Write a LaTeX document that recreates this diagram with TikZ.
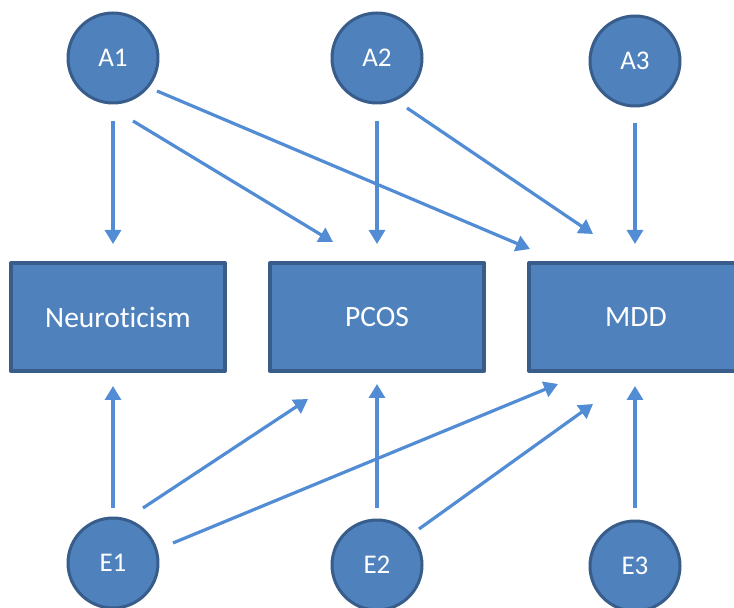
\documentclass[tikz,border=0pt]{standalone}
\usepackage{fontspec}
\setmainfont[Ligatures=NoCommon]{Carlito}
\usetikzlibrary{calc,arrows.meta}

\definecolor{nodeblue}{RGB}{79,129,189}
\definecolor{edgeblue}{RGB}{56,93,138}
\definecolor{arrowblue}{RGB}{82,140,212}

\begin{document}
\begin{tikzpicture}[x=1pt,y=1pt,line join=round,
    latent/.style={circle,fill=nodeblue,draw=edgeblue,line width=3pt,
        minimum size=90pt,inner sep=0pt,text=white,
        font=\fontsize{27}{31}\selectfont},
    trait/.style={rectangle,fill=nodeblue,draw=edgeblue,line width=4pt,
        minimum width=214pt,minimum height=108pt,inner sep=0pt,text=white,
        font=\fontsize{29.5}{33}\selectfont},
    link/.style={draw=arrowblue,line width=3.2pt,
        -{Triangle[length=14pt,width=16pt]}}]
        \useasboundingbox (0,0) rectangle (734,608);

        % Genetische Faktoren oben
        \node[latent] (a1) at (113,550) {A1};
        \node[latent] (a2) at (377,550) {A2};
        \node[latent] (a3) at (635,547) {A3};

        % Merkmale in der Mitte
        \node[trait] (neuro) at (118,291) {Neuroticism};
        \node[trait] (pcos) at (377,291) {PCOS};
        \node[trait] (mdd) at (636,291) {MDD};

        % Umweltfaktoren unten
        \node[latent] (e1) at (113,45) {E1};
        \node[latent] (e2) at (377,43) {E2};
        \node[latent] (e3) at (635,42) {E3};

        % Pfade von A
        \draw[link] ($(a1)+(0,-63)$) -- ($(neuro.north)+(-5,17)$);
        \draw[link] ($(a1)+(20,-63)$) -- ($(pcos.north)+(-44,19)$);
        \draw[link] ($(a1)+(44,-33)$) -- ($(mdd.north west)+(3,12)$);
        \draw[link] ($(a2)+(0,-63)$) -- ($(pcos.north)+(0,17)$);
        \draw[link] ($(a2)+(30,-50)$) -- ($(mdd.north)+(-43,27)$);
        \draw[link] ($(a3)+(0,-62)$) -- ($(mdd.north)+(-1,17)$);

        % Pfade von E
        \draw[link] ($(e1)+(0,55)$) -- ($(neuro.south)+(-5,-13)$);
        \draw[link] ($(e1)+(30,55)$) -- ($(pcos.south)+(-69,-26)$);
        \draw[link] ($(e1)+(60,20)$) -- ($(mdd.south west)+(31,-11)$);
        \draw[link] ($(e2)+(0,57)$) -- ($(pcos.south)+(0,-11)$);
        \draw[link] ($(e2)+(42,36)$) -- ($(mdd.south)+(-43,-31)$);
        \draw[link] ($(e3)+(0,58)$) -- ($(mdd.south)+(-1,-13)$);
    \end{tikzpicture}
\end{document}
